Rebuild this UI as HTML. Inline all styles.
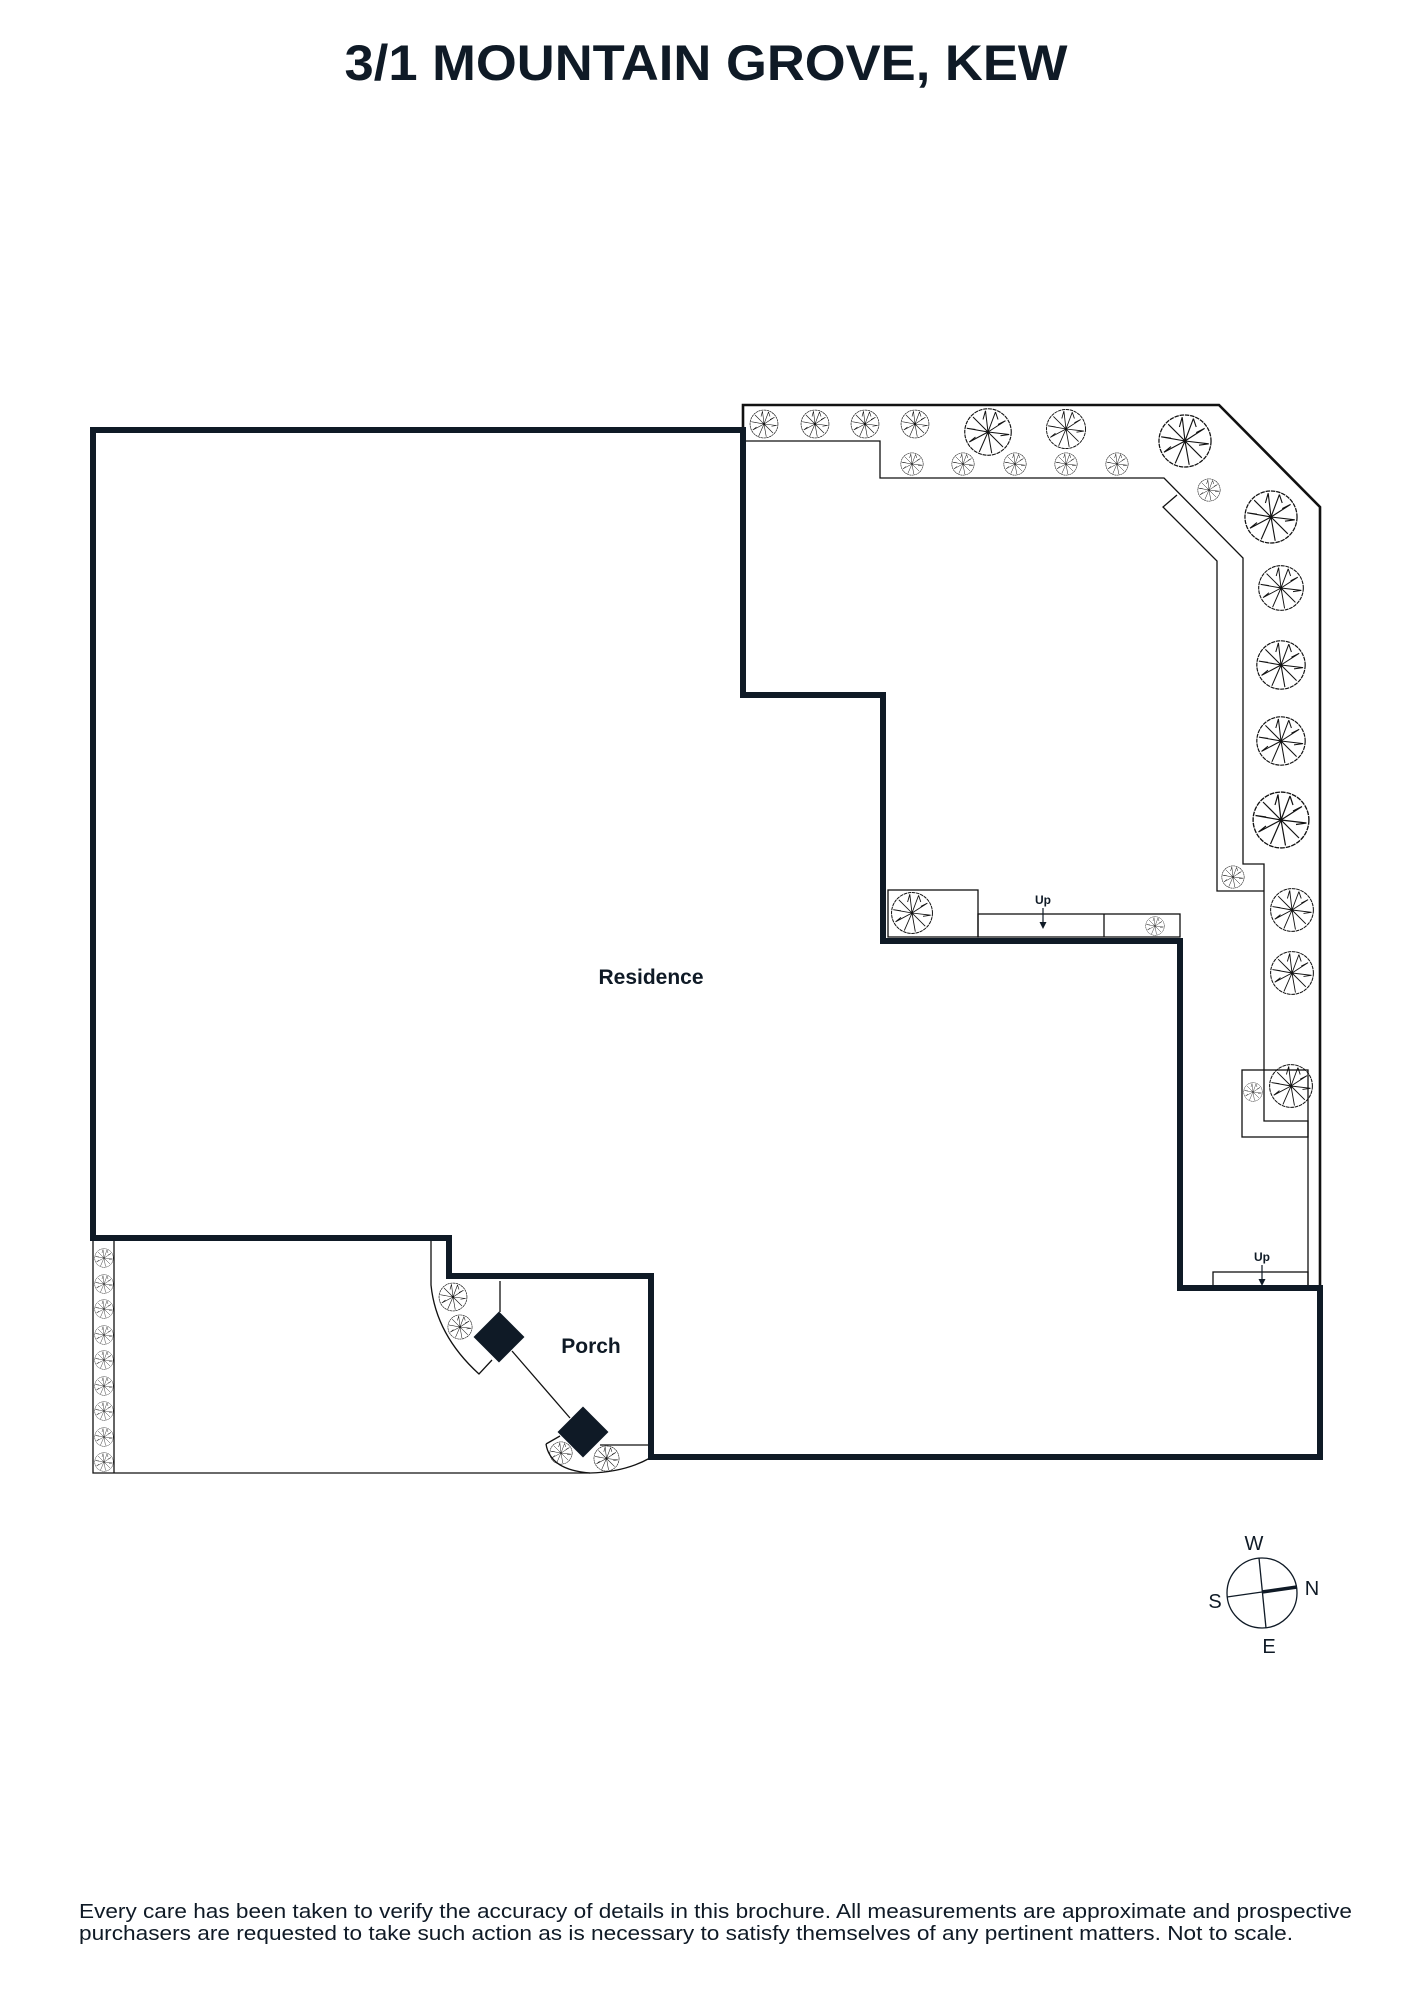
<!DOCTYPE html>
<html><head><meta charset="utf-8"><style>
html,body{margin:0;padding:0;background:#fff;}
svg{display:block;}
</style></head><body>
<svg width="1413" height="2000" viewBox="0 0 1413 2000" xmlns="http://www.w3.org/2000/svg">
<defs>
<symbol id="t" viewBox="-10 -10 20 20">
<circle cx="0" cy="0" r="9.3" fill="none" stroke="#111" stroke-width="0.45" stroke-dasharray="1.6 0.3"/>
<g stroke="#111" stroke-width="0.4" fill="none">
<path d="M0 0L-1 -8.5M0 0L3 -8M0 0L7 -4.5M0 0L8.5 1M0 0L6 6M0 0L1.5 8.5M0 0L-3.5 8M0 0L-7.5 4M0 0L-8.5 -1.5M0 0L-6 -6M-1 -8.5L-2 -5M3 -8L4 -5M7 -4.5L4 -3M8.5 1L5 1.5M-7.5 4L-5 2M-8.5 -1.5L-5 -1"/>
</g>
</symbol>
</defs>
<rect width="1413" height="2000" fill="#fff"/>
<text x="706" y="80" text-anchor="middle" font-family="Liberation Sans, sans-serif" font-weight="bold" font-size="50" fill="#0f1a26" textLength="723" lengthAdjust="spacingAndGlyphs">3/1 MOUNTAIN GROVE, KEW</text>

<g fill="none" stroke="#111" stroke-width="1.3">
<path d="M743 430 L743 405 L1219 405 L1320 507 L1320 1288" stroke-width="2.6"/>
<path d="M743 441 L880 441 L880 478 L1164 478 L1243 558 L1243 864 L1264 864 L1264 1121 L1308 1121 L1308 1286"/>
<path d="M1177 495 L1163 507 L1217 561 L1217 891 L1264 891"/>
<rect x="1242" y="1070" width="66" height="67"/>
<rect x="888" y="890" width="90" height="47"/>
<rect x="978" y="914" width="202" height="23"/>
<line x1="1104" y1="914" x2="1104" y2="937"/>
<rect x="1213" y="1272" width="95" height="16"/>
<path d="M93 1241 L93 1473 L590 1473"/>
<line x1="114" y1="1241" x2="114" y2="1473"/>
<path d="M431 1238 L431 1285 Q436 1335 479 1374 L492 1360"/>
<line x1="500" y1="1281" x2="500" y2="1312"/>
<line x1="512" y1="1351" x2="570" y2="1418"/>
<path d="M546 1444 Q550 1470 590 1473 Q625 1472 650 1458"/>
<path d="M546 1444 L560 1436"/>
<line x1="600" y1="1445" x2="650" y2="1445"/>
</g>

<path d="M93 430 L743 430 L743 695 L883 695 L883 941 L1180 941 L1180 1288 L1320 1288 L1320 1457 L651 1457 L651 1276 L449 1276 L449 1238 L93 1238 Z" fill="none" stroke="#0f1a26" stroke-width="6" stroke-linejoin="miter"/>

<rect x="481" y="1319" width="36" height="36" fill="#0f1a26" transform="rotate(45 499 1337)"/>
<rect x="565" y="1414" width="36" height="36" fill="#0f1a26" transform="rotate(45 583 1432)"/>

<g>
<use href="#t" x="749" y="409" width="30" height="30"/>
<use href="#t" x="800" y="409" width="30" height="30"/>
<use href="#t" x="850" y="409" width="30" height="30"/>
<use href="#t" x="900" y="409" width="30" height="30"/>
<use href="#t" x="963" y="407" width="50" height="50"/>
<use href="#t" x="1045" y="408" width="42" height="42"/>
<use href="#t" x="900" y="452" width="24" height="24"/>
<use href="#t" x="951" y="452" width="24" height="24"/>
<use href="#t" x="1003" y="452" width="24" height="24"/>
<use href="#t" x="1054" y="452" width="24" height="24"/>
<use href="#t" x="1105" y="452" width="24" height="24"/>
<use href="#t" x="1157" y="413" width="56" height="56"/>
<use href="#t" x="1197" y="478" width="24" height="24"/>
<use href="#t" x="1243" y="489" width="56" height="56"/>
<use href="#t" x="1257" y="564" width="48" height="48"/>
<use href="#t" x="1255" y="639" width="52" height="52"/>
<use href="#t" x="1255" y="715" width="52" height="52"/>
<use href="#t" x="1251" y="790" width="60" height="60"/>
<use href="#t" x="1221" y="865" width="24" height="24"/>
<use href="#t" x="1269" y="887" width="46" height="46"/>
<use href="#t" x="1269" y="950" width="46" height="46"/>
<use href="#t" x="1268" y="1063" width="46" height="46"/>
<use href="#t" x="1243" y="1082" width="20" height="20"/>
<use href="#t" x="890" y="891" width="44" height="44"/>
<use href="#t" x="1145" y="916" width="20" height="20"/>
<use href="#t" x="94" y="1248" width="20" height="20"/>
<use href="#t" x="94" y="1274" width="20" height="20"/>
<use href="#t" x="94" y="1299" width="20" height="20"/>
<use href="#t" x="94" y="1325" width="20" height="20"/>
<use href="#t" x="94" y="1350" width="20" height="20"/>
<use href="#t" x="94" y="1376" width="20" height="20"/>
<use href="#t" x="94" y="1401" width="20" height="20"/>
<use href="#t" x="94" y="1427" width="20" height="20"/>
<use href="#t" x="94" y="1452" width="20" height="20"/>
<use href="#t" x="438" y="1282" width="30" height="30"/>
<use href="#t" x="447" y="1314" width="26" height="26"/>
<use href="#t" x="549" y="1441" width="24" height="24"/>
<use href="#t" x="593" y="1445" width="27" height="27"/>
</g>

<g font-family="Liberation Sans, sans-serif" font-weight="bold" fill="#0f1a26">
<text x="1043" y="904" font-size="12" text-anchor="middle">Up</text>
<text x="1262" y="1261" font-size="12" text-anchor="middle">Up</text>
<text x="651" y="984" font-size="21" text-anchor="middle">Residence</text>
<text x="591" y="1353" font-size="21" text-anchor="middle">Porch</text>
</g>
<g stroke="#0f1a26" stroke-width="1.2" fill="#0f1a26">
<line x1="1043" y1="908" x2="1043" y2="924"/>
<path d="M1039.5 922 L1046.5 922 L1043 929 Z" stroke="none"/>
<line x1="1262" y1="1265" x2="1262" y2="1281"/>
<path d="M1258.5 1279 L1265.5 1279 L1262 1286 Z" stroke="none"/>
</g>

<g fill="none" stroke="#0f1a26">
<circle cx="1262" cy="1593" r="35" stroke-width="1.3"/>
<line x1="1227" y1="1597" x2="1262" y2="1592" stroke-width="1.3"/>
<line x1="1262" y1="1592" x2="1297" y2="1587" stroke-width="3.5"/>
<line x1="1259" y1="1558" x2="1266" y2="1628" stroke-width="1.3"/>
</g>
<g font-family="Liberation Sans, sans-serif" font-size="20" fill="#0f1a26" text-anchor="middle">
<text x="1254" y="1550">W</text>
<text x="1312" y="1595">N</text>
<text x="1215" y="1608">S</text>
<text x="1269" y="1653">E</text>
</g>

<g font-family="Liberation Sans, sans-serif" font-size="20" fill="#0f1a26">
<text x="79" y="1918" textLength="1273" lengthAdjust="spacingAndGlyphs">Every care has been taken to verify the accuracy of details in this brochure. All measurements are approximate and prospective</text>
<text x="79" y="1940" textLength="1214" lengthAdjust="spacingAndGlyphs">purchasers are requested to take such action as is necessary to satisfy themselves of any pertinent matters. Not to scale.</text>
</g>
</svg>
</body></html>
